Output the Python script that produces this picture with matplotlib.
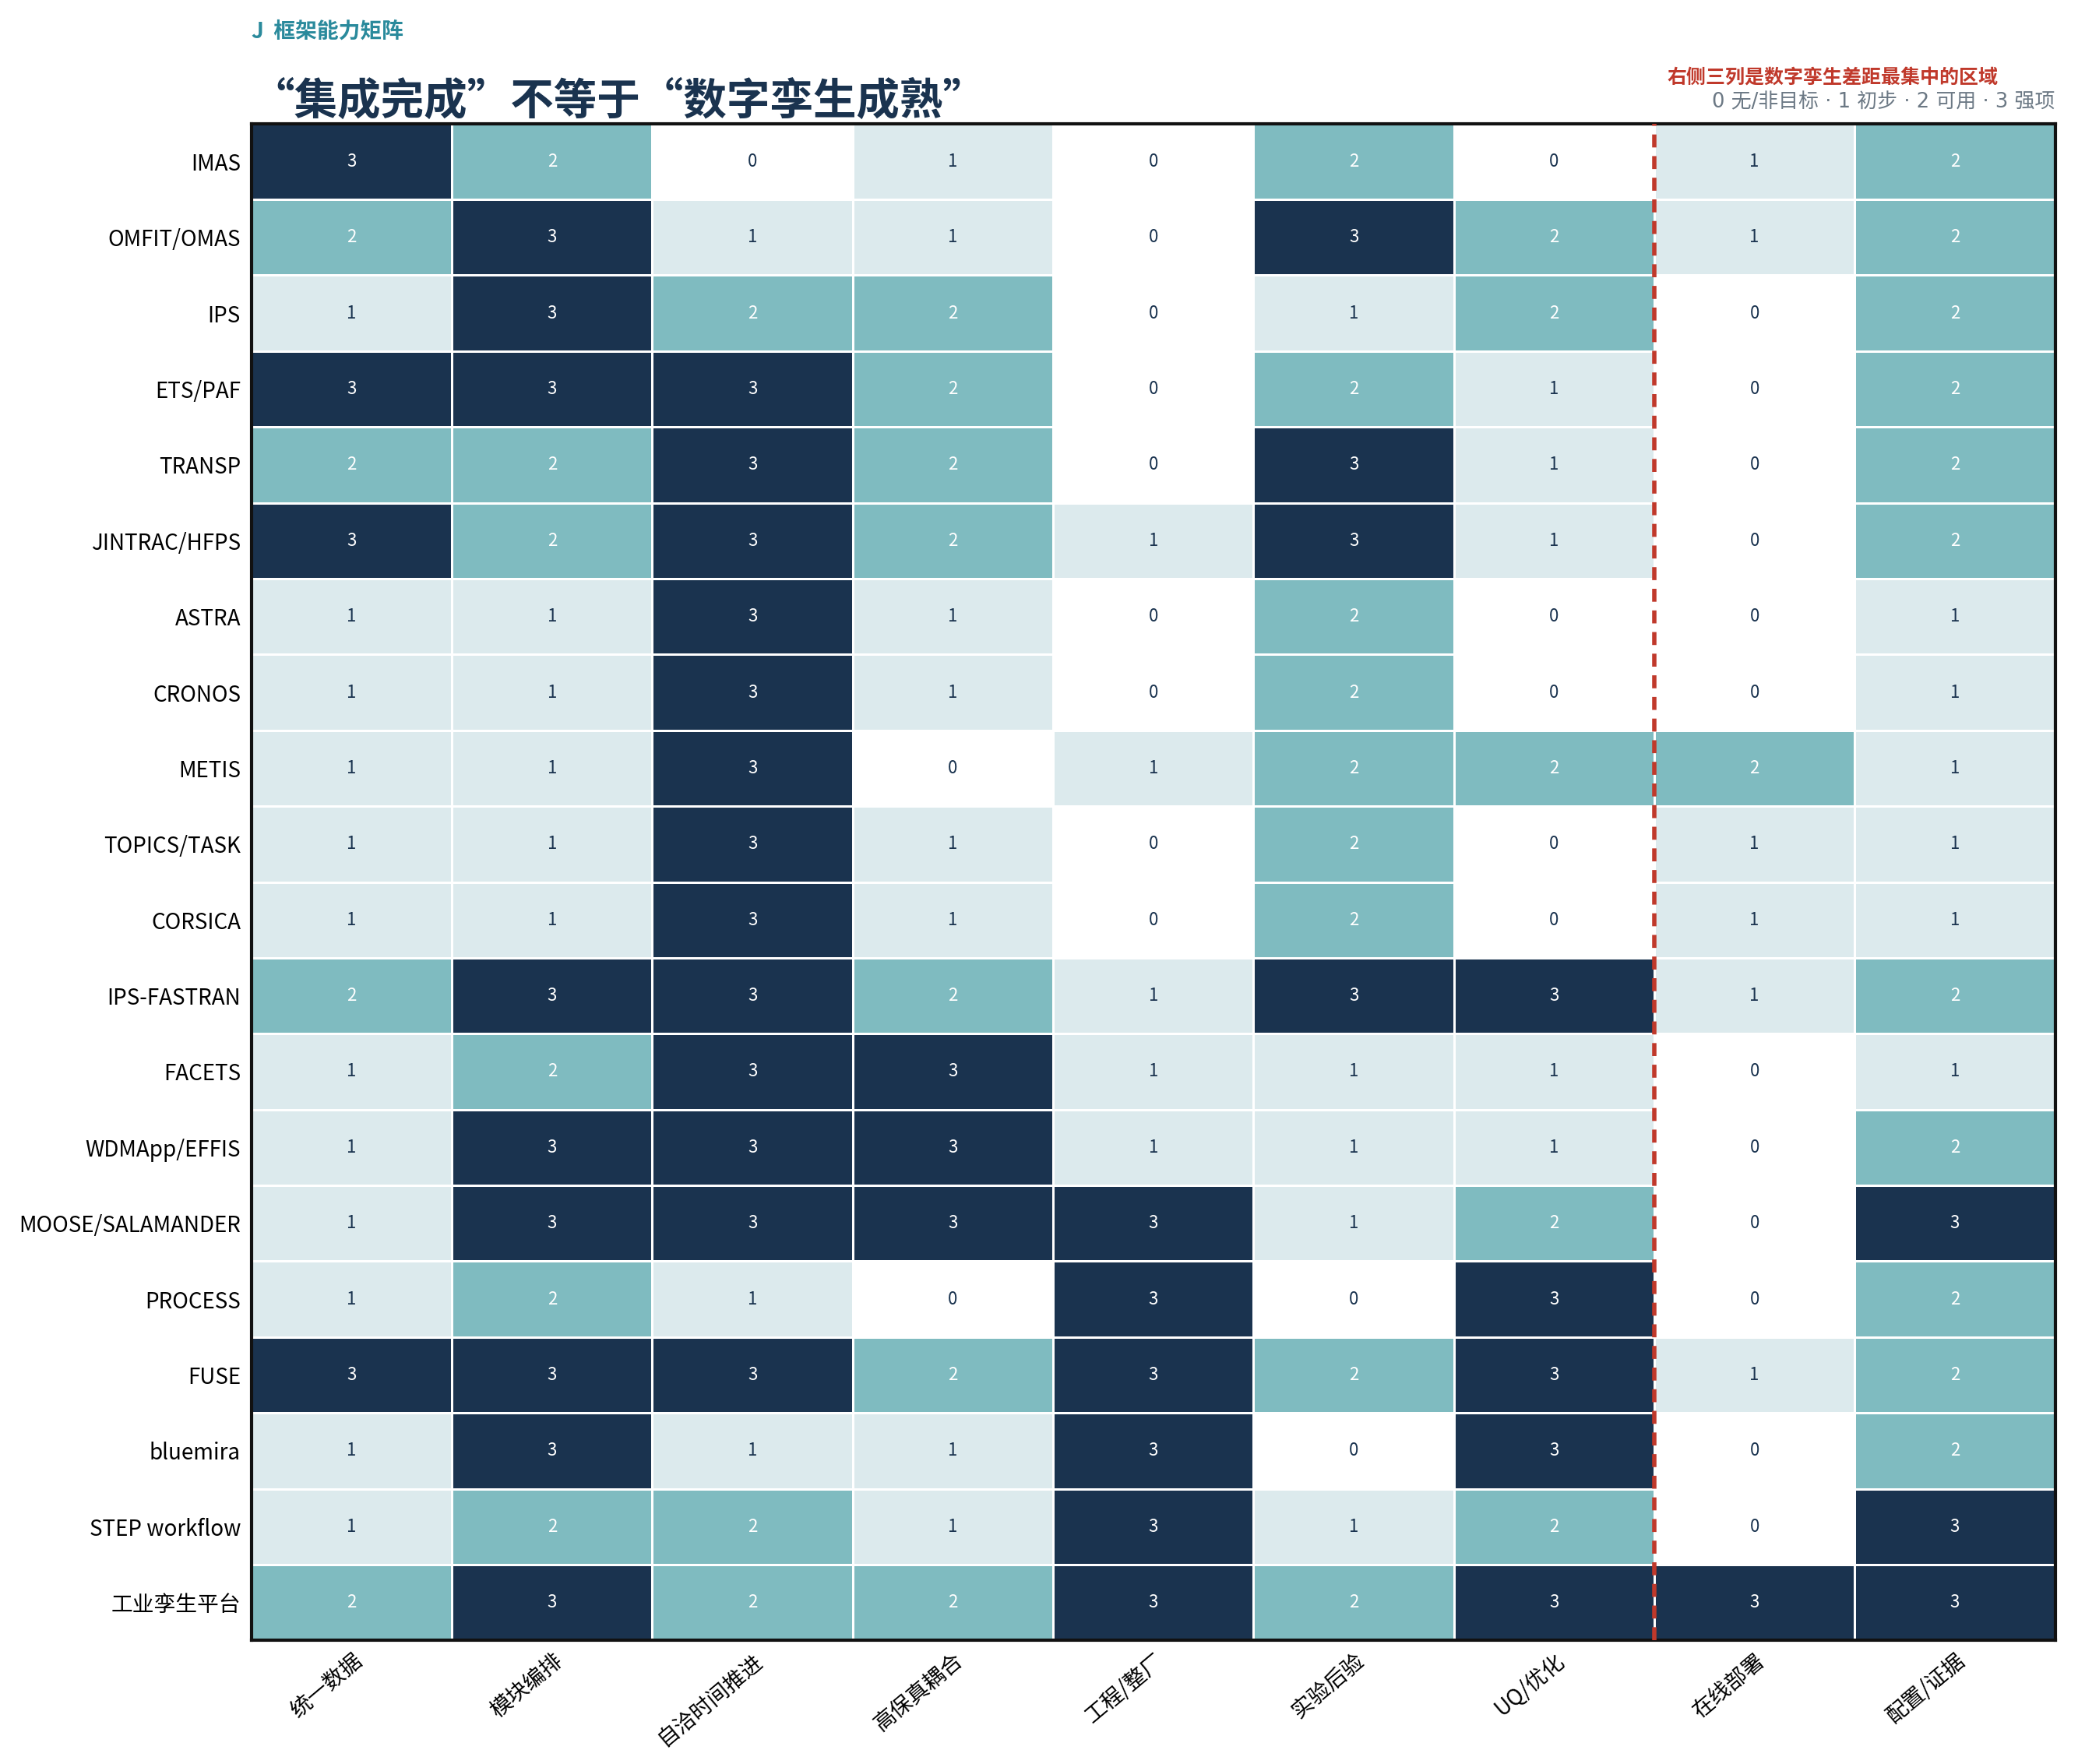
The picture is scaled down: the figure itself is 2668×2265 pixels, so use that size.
import matplotlib.pyplot as plt
import numpy as np
from matplotlib.colors import ListedColormap, BoundaryNorm

plt.rcParams["font.family"] = ["Noto Sans CJK SC", "DejaVu Sans"]

frameworks = [
    "IMAS", "OMFIT/OMAS", "IPS", "ETS/PAF", "TRANSP", "JINTRAC/HFPS", "ASTRA",
    "CRONOS", "METIS", "TOPICS/TASK", "CORSICA", "IPS-FASTRAN", "FACETS",
    "WDMApp/EFFIS", "MOOSE/SALAMANDER", "PROCESS", "FUSE", "bluemira",
    "STEP workflow", "工业孪生平台",
]
capabilities = ["统一数据", "模块编排", "自洽时间推进", "高保真耦合", "工程/整厂",
                "实验后验", "UQ/优化", "在线部署", "配置/证据"]

scores = np.array([
    [3, 2, 0, 1, 0, 2, 0, 1, 2],
    [2, 3, 1, 1, 0, 3, 2, 1, 2],
    [1, 3, 2, 2, 0, 1, 2, 0, 2],
    [3, 3, 3, 2, 0, 2, 1, 0, 2],
    [2, 2, 3, 2, 0, 3, 1, 0, 2],
    [3, 2, 3, 2, 1, 3, 1, 0, 2],
    [1, 1, 3, 1, 0, 2, 0, 0, 1],
    [1, 1, 3, 1, 0, 2, 0, 0, 1],
    [1, 1, 3, 0, 1, 2, 2, 2, 1],
    [1, 1, 3, 1, 0, 2, 0, 1, 1],
    [1, 1, 3, 1, 0, 2, 0, 1, 1],
    [2, 3, 3, 2, 1, 3, 3, 1, 2],
    [1, 2, 3, 3, 1, 1, 1, 0, 1],
    [1, 3, 3, 3, 1, 1, 1, 0, 2],
    [1, 3, 3, 3, 3, 1, 2, 0, 3],
    [1, 2, 1, 0, 3, 0, 3, 0, 2],
    [3, 3, 3, 2, 3, 2, 3, 1, 2],
    [1, 3, 1, 1, 3, 0, 3, 0, 2],
    [1, 2, 2, 1, 3, 1, 2, 0, 3],
    [2, 3, 2, 2, 3, 2, 3, 3, 3],
])

level_colors = ["#ffffff", "#dceaed", "#7fbbc0", "#1a334f"]
text_colors = ["#1a334f", "#1a334f", "#ffffff", "#ffffff"]
gap_col = 7  # dashed line boundary (before 在线部署)

fig = plt.figure(figsize=(13.34, 11.325), dpi=200)
ax = fig.add_axes([0.121, 0.070, 0.868, 0.860])

cmap = ListedColormap(level_colors)
norm = BoundaryNorm([-0.5, 0.5, 1.5, 2.5, 3.5], cmap.N)
ax.pcolormesh(scores, cmap=cmap, norm=norm, edgecolors="white", linewidth=1.0)

for i in range(scores.shape[0]):
    for j in range(scores.shape[1]):
        v = scores[i, j]
        ax.text(j + 0.5, i + 0.5, str(v), ha="center", va="center",
                fontsize=8, color=text_colors[v])

ax.set_xlim(0, len(capabilities))
ax.set_ylim(len(frameworks), 0)
ax.set_xticks(np.arange(len(capabilities)) + 0.5)
ax.set_xticklabels(capabilities, rotation=40, ha="right", rotation_mode="anchor", fontsize=10)
ax.set_yticks(np.arange(len(frameworks)) + 0.5)
ax.set_yticklabels(frameworks, fontsize=10)
ax.tick_params(axis="y", length=0, pad=5)
ax.tick_params(axis="x", length=0, pad=4)
for s in ax.spines.values():
    s.set_linewidth(1.5)
    s.set_color("#111111")

ax.axvline(gap_col, color="#c0392b", lw=2, ls=(0, (3, 2)), zorder=5)

fig.text(0.121, 0.982, "J  框架能力矩阵", fontsize=10, fontweight="bold",
         color="#2a8a9c", ha="left", va="center")
fig.text(0.121, 0.930, "“集成完成”不等于“数字孪生成熟”", fontsize=20,
         fontweight="black", color="#1a334f", ha="left", va="bottom")
fig.text(0.882, 0.956, "右侧三列是数字孪生差距最集中的区域", fontsize=9,
         fontweight="bold", color="#c0392b", ha="center", va="center")
fig.text(0.989, 0.942, "0 无/非目标 · 1 初步 · 2 可用 · 3 强项", fontsize=9.3,
         color="#6b7884", ha="right", va="center",
         family=["DejaVu Sans", "Noto Sans CJK SC"])

fig.savefig("out.png", dpi=200)
